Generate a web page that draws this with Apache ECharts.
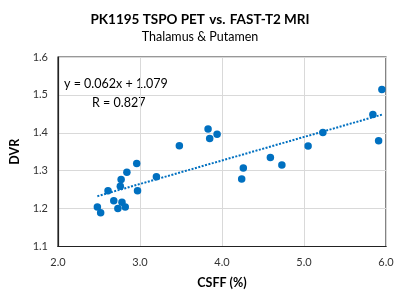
<!DOCTYPE html>
<html><head><meta charset="utf-8">
<script src="https://cdn.jsdelivr.net/npm/echarts@6/dist/echarts.min.js"></script>
<style>html,body{margin:0;padding:0;background:#fff}#c{width:400px;height:299px}</style>
</head><body><div id="c"></div>
<script>
const csff = [2.48,2.52,2.61,2.68,2.73,2.78,2.82,2.76,2.77,2.84,2.96,2.97,3.20,3.48,3.83,3.85,3.94,4.26,4.24,4.59,4.73,5.05,5.23,5.84,5.91,5.95];
const dvr  = [1.204,1.189,1.247,1.221,1.200,1.217,1.204,1.259,1.277,1.296,1.319,1.247,1.284,1.366,1.410,1.385,1.396,1.307,1.278,1.335,1.315,1.365,1.401,1.448,1.379,1.514];
const trendCoef = [0.062, 1.079];
const trendX = [2.48, 5.95];
const xTicks = [2.0, 3.0, 4.0, 5.0, 6.0];
const yTicks = [1.1, 1.2, 1.3, 1.4, 1.5, 1.6];

const pts = csff.map((x,i)=>[x,dvr[i]]);
const trend = trendX.map(x=>[x, trendCoef[0]*x+trendCoef[1]]);
const FF = 'Lato, "Liberation Sans", sans-serif';
const chart = echarts.init(document.getElementById('c'), null, {renderer:'canvas'});
chart.setOption({
  animation:false,
  textStyle:{fontFamily:FF},
  title:[{
    text:'{b|PK1195 TSPO PET} {n|vs.} {b|FAST-T2 MRI}',
    left:'center', top:6,
    textStyle:{rich:{b:{fontWeight:'bold',fontSize:13.5,fontFamily:FF,color:'#000'},n:{fontSize:13.5,fontFamily:FF,color:'#000'}}}
  },{
    text:'Thalamus & Putamen', left:'center', top:25,
    textStyle:{fontWeight:'normal',fontSize:12.5,fontFamily:FF,color:'#000'}
  }],
  grid:{left:53,right:14,top:57,bottom:52.5,show:true,borderColor:'#333',borderWidth:1.2},
  xAxis:{type:'value',min:xTicks[0],max:xTicks[xTicks.length-1],interval:1,
    name:'CSFF (%)',nameLocation:'middle',nameGap:30,
    nameTextStyle:{fontWeight:'bold',fontSize:12.5,color:'#000',fontFamily:FF},
    axisLine:{show:true,lineStyle:{color:'#222',width:1.2}},axisTick:{show:false},
    axisLabel:{fontSize:11,color:'#333',margin:10,formatter:v=>v.toFixed(1),fontFamily:FF},
    splitLine:{show:true,lineStyle:{color:'#d9d9d9',width:1}}},
  yAxis:{type:'value',min:yTicks[0],max:yTicks[yTicks.length-1],interval:0.1,
    name:'DVR',nameLocation:'middle',nameGap:37,nameRotate:90,
    nameTextStyle:{fontWeight:'bold',fontSize:12.5,color:'#000',fontFamily:FF},
    axisLine:{show:true,lineStyle:{color:'#222',width:1.2}},axisTick:{show:false},
    axisLabel:{fontSize:11,color:'#333',margin:10,formatter:v=>v.toFixed(1),fontFamily:FF},
    splitLine:{show:true,lineStyle:{color:'#d9d9d9',width:1}}},
  series:[{
    type:'line',data:trend,showSymbol:false,symbol:'none',
    lineStyle:{color:'#0070C0',width:2,type:[2,1.5]},z:2,silent:true
  },{
    type:'scatter',data:pts,symbolSize:7.5,itemStyle:{color:'#0070C0',opacity:1},z:3
  }],
  graphic:[{
    type:'text',left:64,top:77,style:{text:'y = 0.062x + 1.079',fontSize:12.5,fontFamily:FF,fill:'#000'}
  },{
    type:'text',left:92,top:96,style:{text:'R = 0.827',fontSize:12.5,fontFamily:FF,fill:'#000'}
  }]
});
</script></body></html>
